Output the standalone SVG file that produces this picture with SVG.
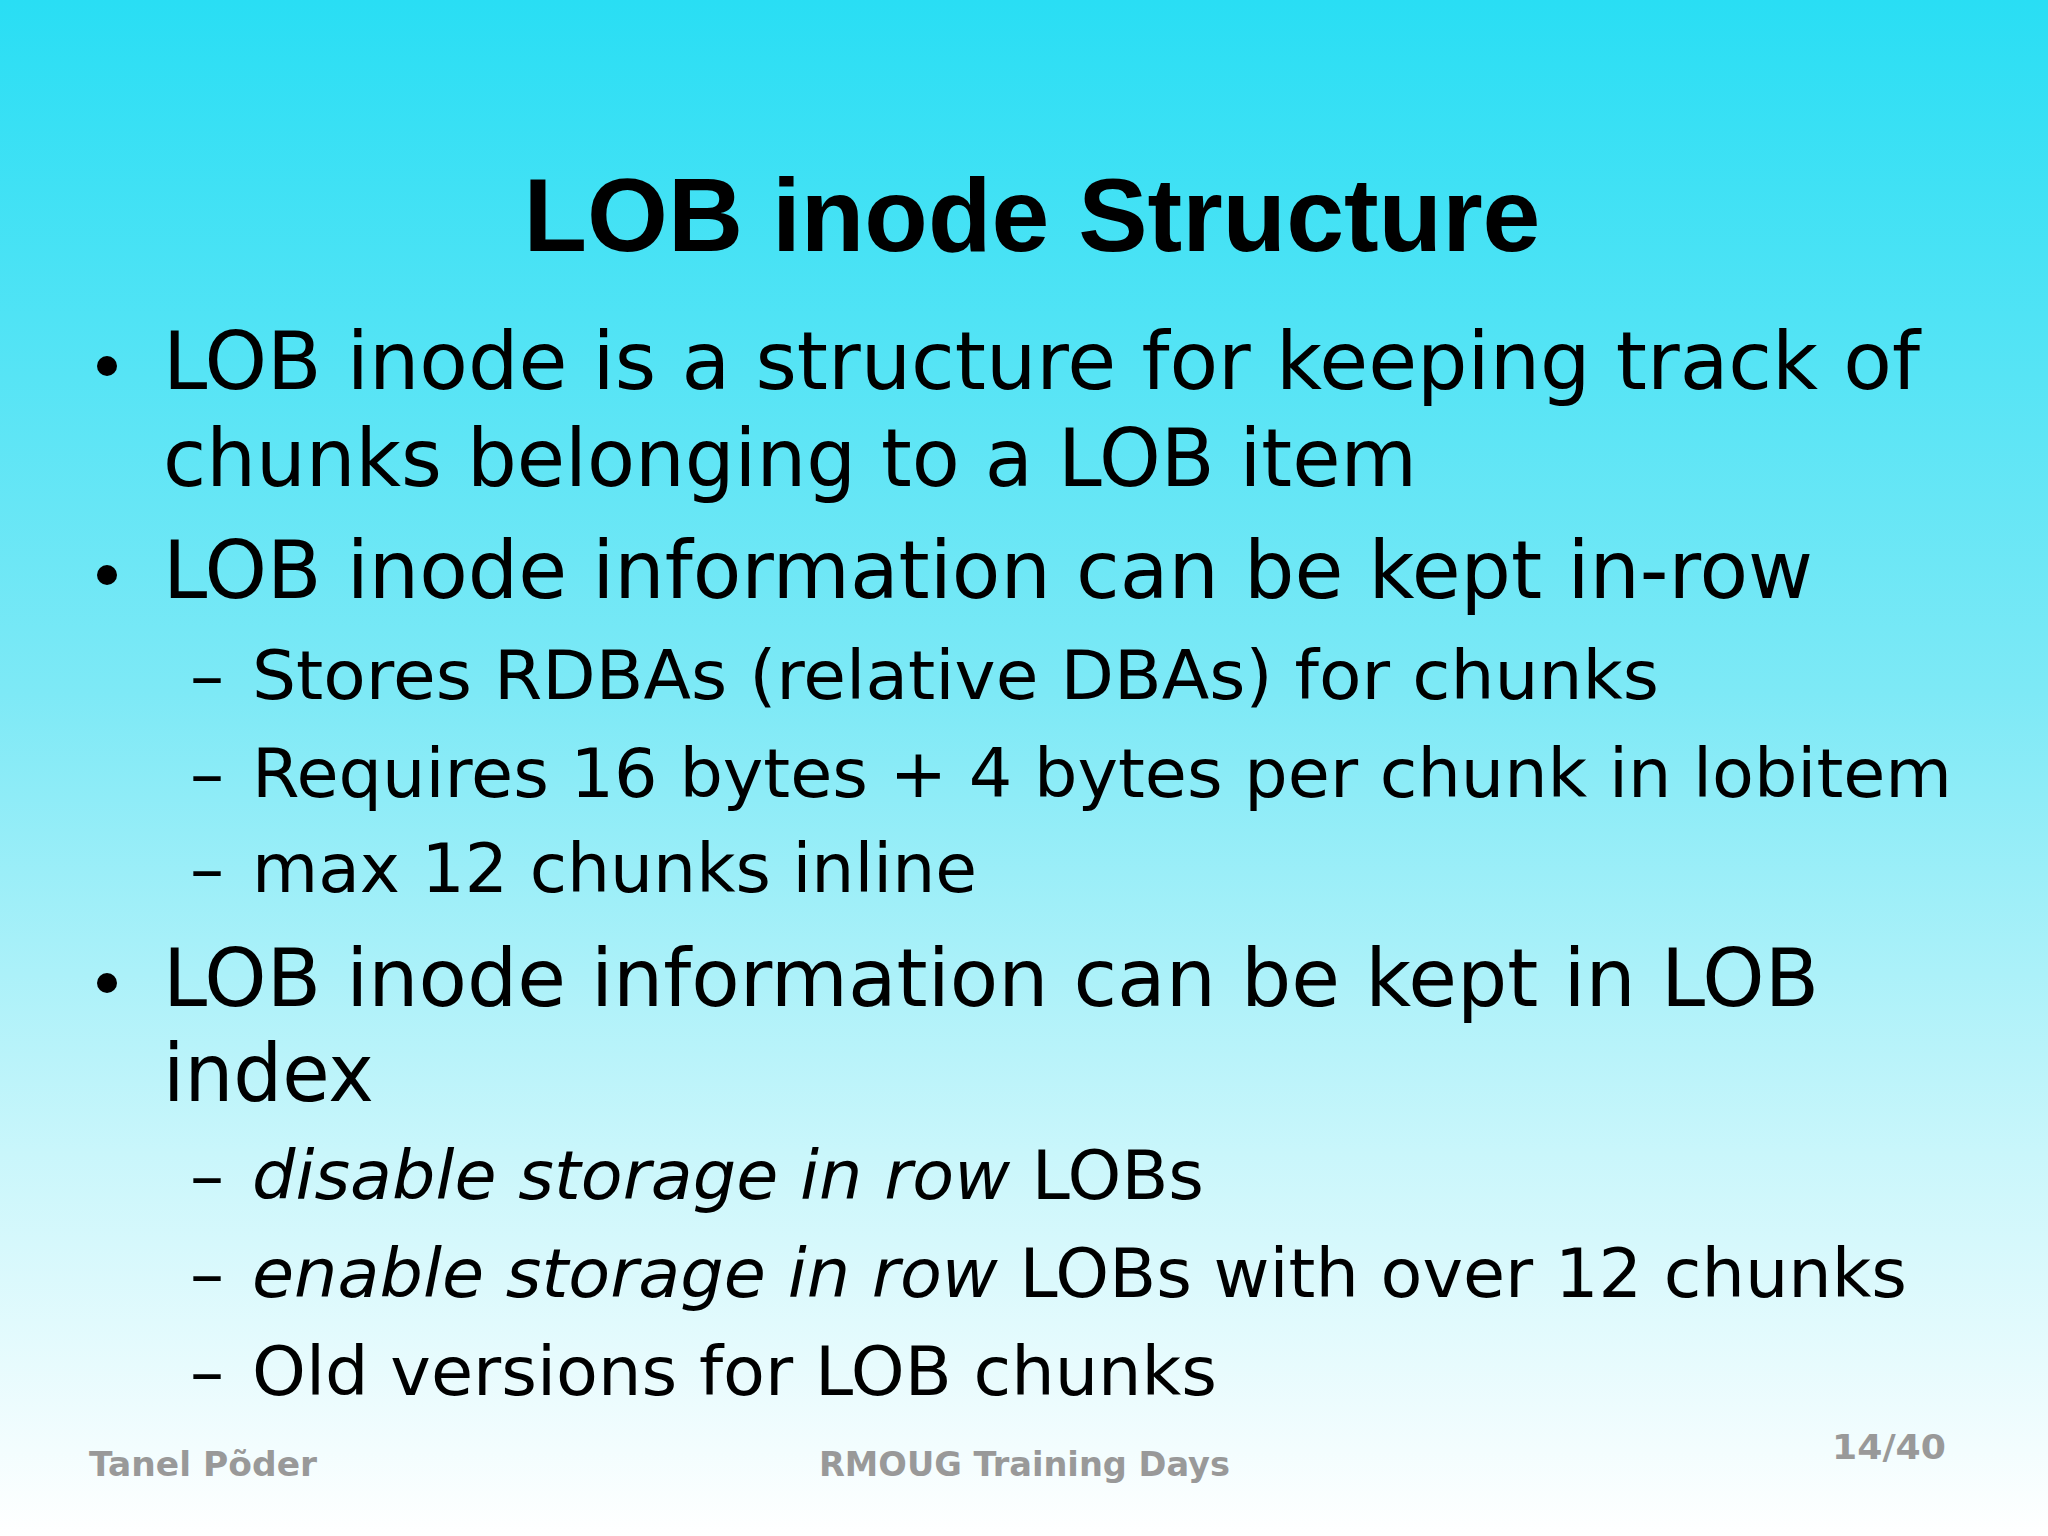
<svg xmlns="http://www.w3.org/2000/svg" width="2048" height="1536" viewBox="0 0 2048 1536">
<defs>
<linearGradient id="bg" x1="0" y1="0" x2="0" y2="1">
<stop offset="0" stop-color="#29def4"/>
<stop offset="0.45" stop-color="#7de9f6"/>
<stop offset="0.75" stop-color="#c9f6fb"/>
<stop offset="1" stop-color="#ffffff"/>
</linearGradient>
<style>
.t{font-family:"Liberation Sans",Arial,sans-serif;font-weight:bold;font-size:104px;fill:#000}
.b{font-family:"DejaVu Sans","Noto Sans",sans-serif;font-size:80px;fill:#000}
.s{font-family:"DejaVu Sans","Noto Sans",sans-serif;font-size:68px;fill:#000}
.f{font-family:"DejaVu Sans",sans-serif;font-weight:bold;font-size:33px;fill:#999}
</style>
</defs>
<rect width="2048" height="1536" fill="url(#bg)"/>
<text class="t" x="1032" y="251" text-anchor="middle">LOB inode Structure</text>
<g fill="#000">
<circle cx="107" cy="366" r="10"/>
<circle cx="107" cy="575" r="10"/>
<circle cx="107" cy="983" r="10"/>
</g>
<text class="b" x="163" y="389" textLength="1757" lengthAdjust="spacingAndGlyphs">LOB inode is a structure for keeping track of</text>
<text class="b" x="163" y="486" textLength="1254" lengthAdjust="spacingAndGlyphs">chunks belonging to a LOB item</text>
<text class="b" x="163" y="598" textLength="1650" lengthAdjust="spacingAndGlyphs">LOB inode information can be kept in-row</text>
<text class="s" x="190" y="699">–</text>
<text class="s" x="252" y="699" textLength="1407" lengthAdjust="spacingAndGlyphs">Stores RDBAs (relative DBAs) for chunks</text>
<text class="s" x="190" y="797">–</text>
<text class="s" x="252" y="797" textLength="1700" lengthAdjust="spacingAndGlyphs">Requires 16 bytes + 4 bytes per chunk in lobitem</text>
<text class="s" x="190" y="892">–</text>
<text class="s" x="252" y="892" textLength="725" lengthAdjust="spacingAndGlyphs">max 12 chunks inline</text>
<text class="b" x="163" y="1006" textLength="1656" lengthAdjust="spacingAndGlyphs">LOB inode information can be kept in LOB</text>
<text class="b" x="163" y="1101" textLength="211" lengthAdjust="spacingAndGlyphs">index</text>
<text class="s" x="190" y="1199">–</text>
<text class="s" x="252" y="1199" textLength="952" lengthAdjust="spacingAndGlyphs"><tspan font-style="italic">disable storage in row</tspan> LOBs</text>
<text class="s" x="190" y="1297">–</text>
<text class="s" x="252" y="1297" textLength="1655" lengthAdjust="spacingAndGlyphs"><tspan font-style="italic">enable storage in row</tspan> LOBs with over 12 chunks</text>
<text class="s" x="190" y="1395">–</text>
<text class="s" x="252" y="1395" textLength="965" lengthAdjust="spacingAndGlyphs">Old versions for LOB chunks</text>
<text class="f" x="89" y="1476" textLength="228" lengthAdjust="spacingAndGlyphs">Tanel Põder</text>
<text class="f" x="819" y="1476" textLength="411" lengthAdjust="spacingAndGlyphs">RMOUG Training Days</text>
<text class="f" x="1832" y="1459" textLength="114" lengthAdjust="spacingAndGlyphs">14/40</text>
</svg>
